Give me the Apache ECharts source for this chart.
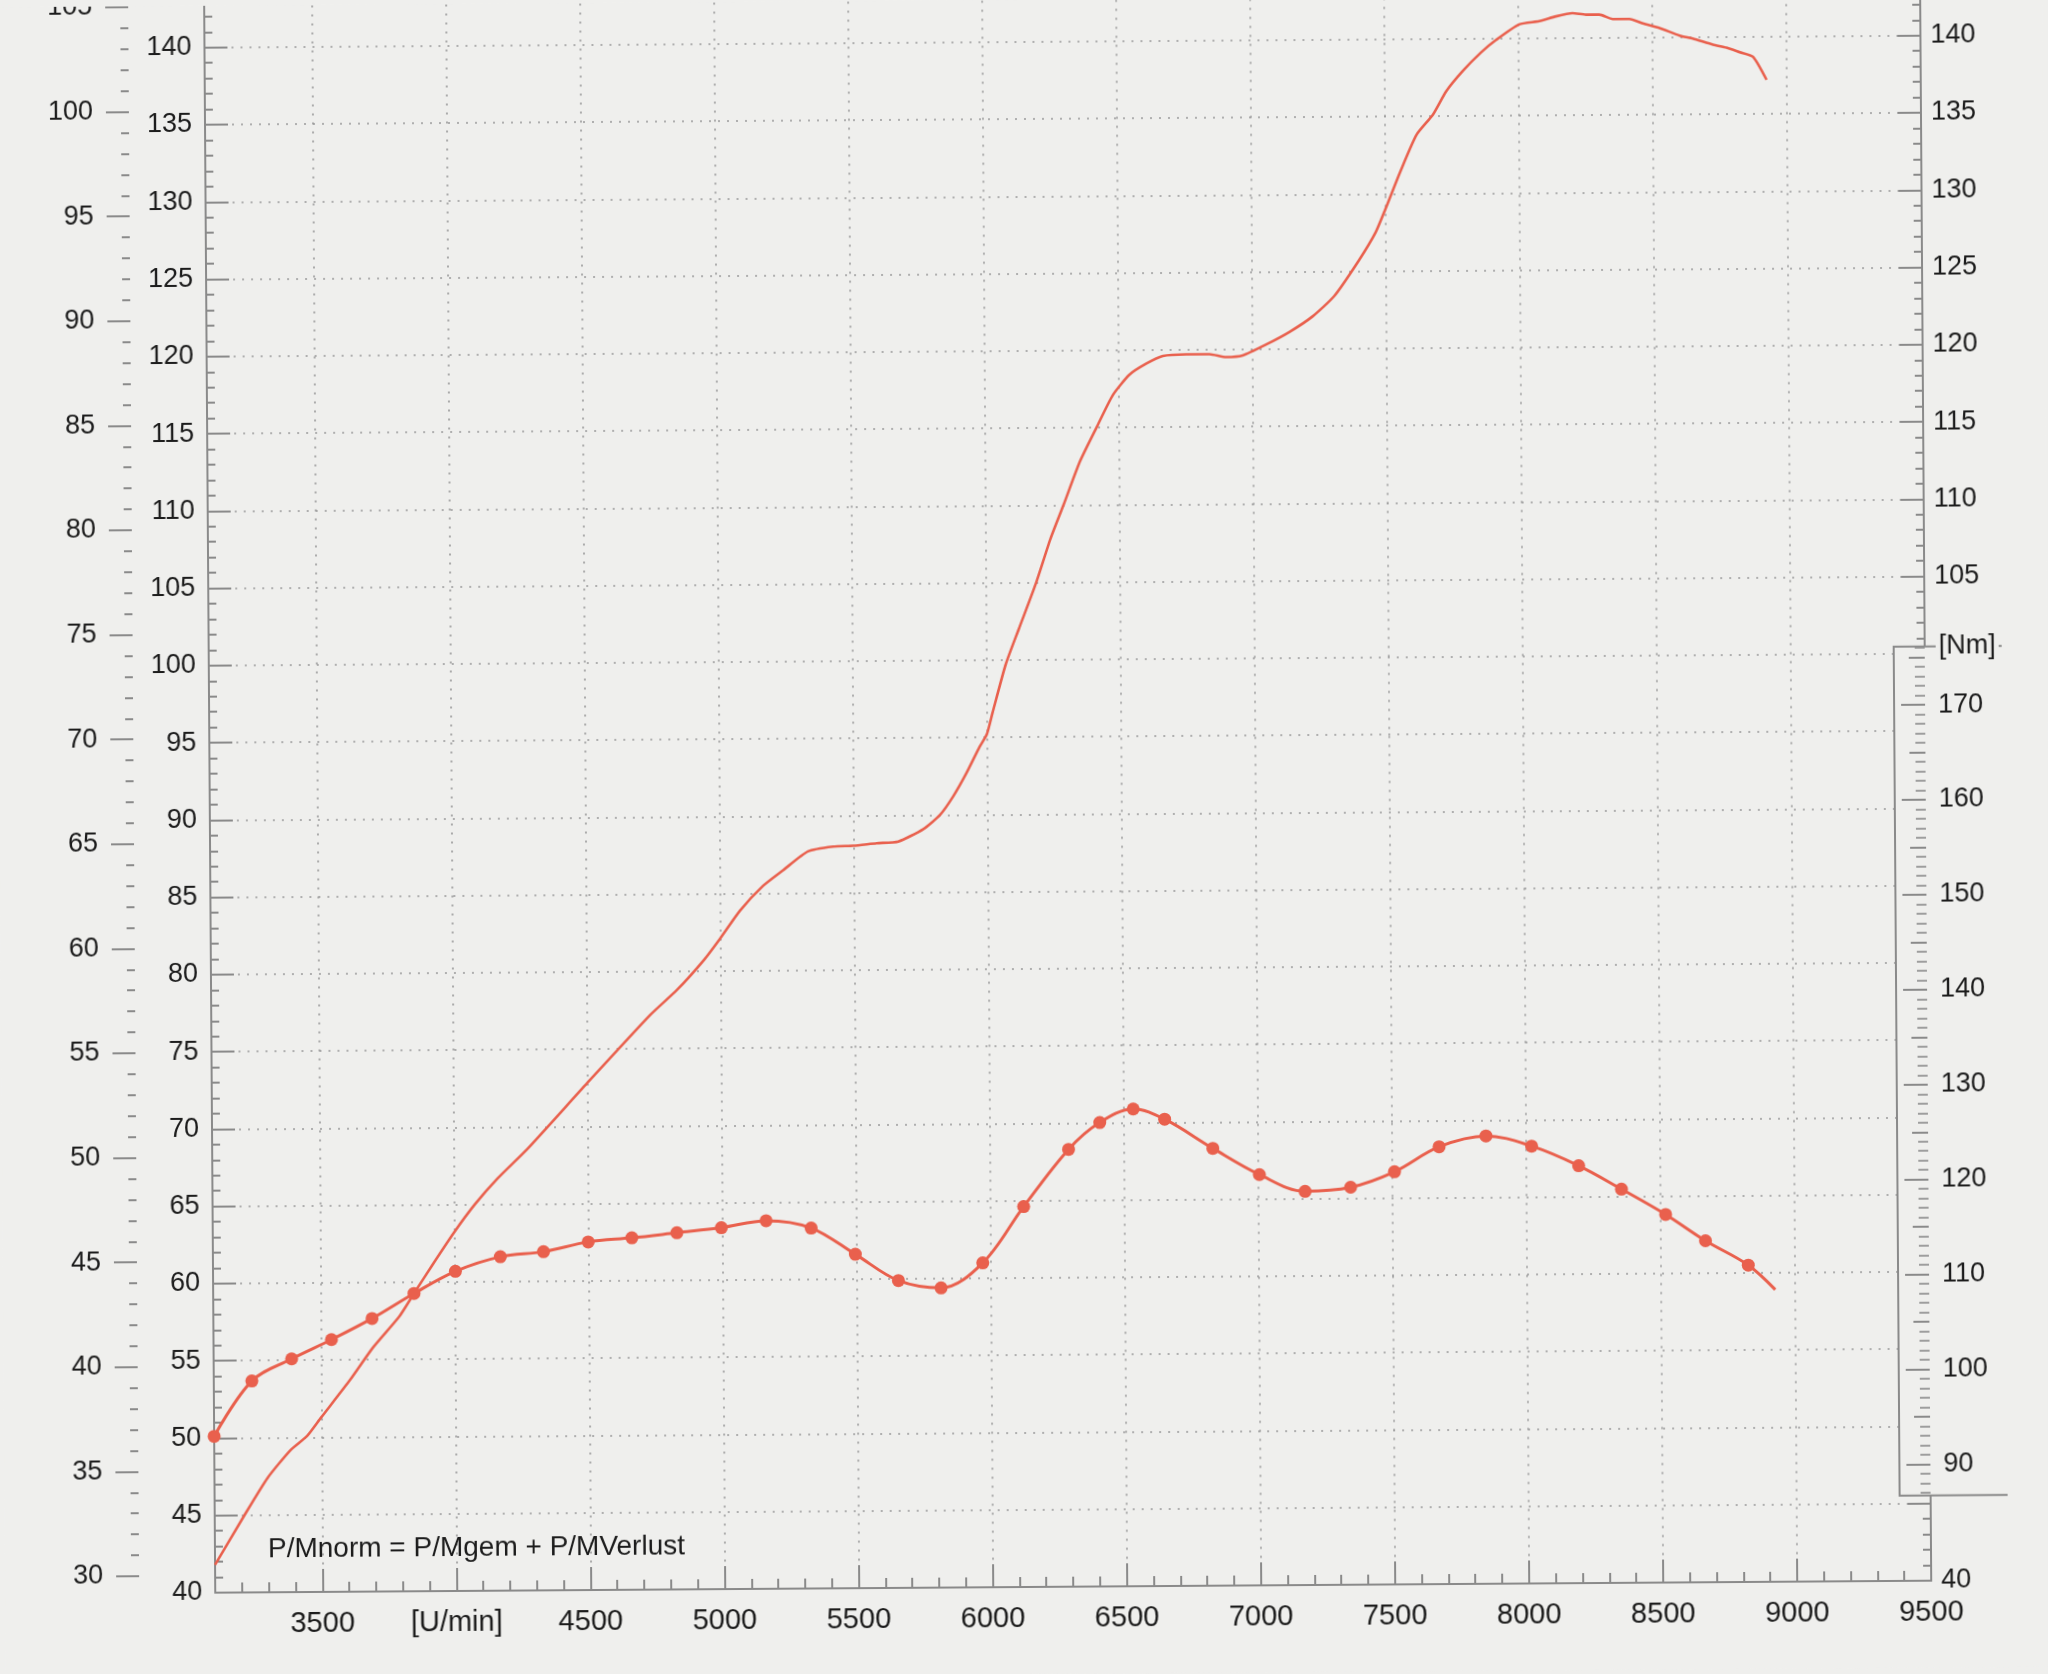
<!DOCTYPE html>
<html>
<head>
<meta charset="UTF-8">
<title>Leistungsprüfstand</title>
<style>
  html, body { margin: 0; height: 100%; background: #efefed; overflow: hidden; }
  /* der Scan ist leicht schief eingelegt */
  #container { width: 2048px; height: 1674px; transform: rotate(-0.4deg); }
</style>
</head>
<body>
<div id="container"></div>
<script src="https://cdn.jsdelivr.net/npm/echarts@6.0.0/dist/echarts.min.js"></script>
<script>
// Leistung [PS] ueber Drehzahl [U/min]
var rpmPower = [3100, 3211, 3298, 3385, 3447, 3500, 3608, 3695, 3794, 3850, 3918, 4000, 4078, 4165, 4277, 4500,
  4738, 4838, 4938, 5000, 5075, 5162, 5237, 5330, 5424, 5499, 5586, 5667, 5761, 5823, 5873, 5923, 5973, 6000,
  6022, 6072, 6122, 6186, 6242, 6292, 6354, 6417, 6479, 6541, 6603, 6666, 6753, 6840, 6902, 6964, 7052, 7139,
  7226, 7307, 7400, 7463, 7500, 7556, 7618, 7680, 7730, 7792, 7861, 7917, 8004, 8079, 8141, 8203, 8253, 8303,
  8353, 8415, 8465, 8527, 8602, 8651, 8726, 8776, 8826, 8875, 8925];
var psPower = [41.8, 45.0, 47.4, 49.2, 50.1, 51.3, 53.7, 55.8, 57.8, 59.3, 61.1, 63.2, 65.0, 66.7, 68.6, 72.8,
  77.2, 78.8, 80.7, 82.1, 83.9, 85.5, 86.5, 87.7, 88.0, 88.05, 88.2, 88.3, 89.1, 90.0, 91.2, 92.7, 94.4, 95.2,
  96.6, 99.7, 102.0, 104.9, 107.8, 110.0, 112.8, 115.0, 117.1, 118.4, 119.1, 119.6, 119.7, 119.7, 119.5, 119.6, 120.3, 121.1,
  122.1, 123.4, 125.7, 127.5, 129.0, 131.4, 133.8, 135.1, 136.6, 137.9, 139.1, 139.9, 140.9, 141.1, 141.4, 141.6, 141.5, 141.5,
  141.2, 141.2, 140.9, 140.6, 140.1, 139.9, 139.5, 139.3, 139.0, 138.7, 137.2];

// Drehmoment [Nm], Messpunkte (letzter Wert ohne Punkt)
var rpmTorque = [3100, 3242, 3391, 3540, 3692, 3849, 4004, 4172, 4333, 4500, 4663, 4831, 4997, 5164, 5332, 5496,
  5656, 5815, 5971, 6125, 6294, 6411, 6536, 6653, 6832, 7005, 7175, 7345, 7509, 7676, 7851, 8021, 8196, 8355,
  8519, 8667, 8826, 8926];
var nmTorque = [94.2, 100.0, 102.3, 104.3, 106.5, 109.1, 111.4, 112.9, 113.4, 114.4, 114.8, 115.3, 115.8, 116.5, 115.7, 112.9,
  110.1, 109.3, 111.9, 117.8, 123.8, 126.6, 128.0, 126.9, 123.8, 121.0, 119.2, 119.6, 121.2, 123.8, 124.9, 123.8, 121.7, 119.2,
  116.5, 113.7, 111.1, 108.5];

// Achsteilung
var xMajor = [3500, 4000, 4500, 5000, 5500, 6000, 6500, 7000, 7500, 8000, 8500, 9000];
var xLabels = [3500, 4000, 4500, 5000, 5500, 6000, 6500, 7000, 7500, 8000, 8500, 9000, 9500];
var nmMajor = [90, 100, 110, 120, 130, 140, 150, 160, 170];
var nmMid = [95, 105, 115, 125, 135, 145, 155, 165, 175];

function steps(a, b, s) {
  var r = [];
  for (var v = a; v <= b; v += s) r.push(v);
  return r;
}
var xMinor = steps(3200, 9400, 100);
var nmMinor = steps(87, 176, 1);

var bg = '#efefed';
var red = '#e9604d';
var gray = '#8a8a8a';
var ink = '#1c1c1c';
var font = "'Liberation Sans', Arial, sans-serif";
var dotted = { color: '#9a9a9a', type: [2, 7], width: 1.6 };

var myChart = echarts.init(document.getElementById('container'));

var torqueData = rpmTorque.map(function (r, i) {
  var item = { value: [r, nmTorque[i]] };
  if (i === rpmTorque.length - 1) item.symbol = 'none';
  return item;
});

var option = {
  backgroundColor: bg,
  animation: false,
  grid: [
    { left: 210, right: 122, top: -35.5, bottom: 87, outerBoundsMode: 'none' },
    { left: 134, width: 10, top: 1, bottom: 104, outerBoundsMode: 'none' }
  ],
  xAxis: [
    {
      type: 'value', gridIndex: 0, position: 'bottom', min: 3100, max: 9500, z: 1,
      axisLine: { show: true, onZero: false, lineStyle: { color: gray, width: 2 } },
      axisTick: { show: true, inside: true, length: 23, customValues: xMajor, lineStyle: { color: gray, width: 2 } },
      axisLabel: {
        customValues: xLabels, margin: 17, fontSize: 29, color: ink, fontFamily: font,
        formatter: function (v) { return v === 4000 ? '[U/min]' : String(v); }
      },
      splitLine: { show: true, lineStyle: dotted }
    },
    {
      type: 'value', gridIndex: 0, position: 'bottom', min: 3100, max: 9500, z: 1,
      axisLine: { show: false },
      axisTick: { show: true, inside: true, length: 10, customValues: xMinor, lineStyle: { color: gray, width: 2 } },
      axisLabel: { show: false },
      splitLine: { show: false }
    },
    { type: 'value', gridIndex: 1, show: false, min: 0, max: 1 }
  ],
  yAxis: [
    { // PS, innen links
      type: 'value', gridIndex: 0, position: 'left', min: 40, max: 145, interval: 5, z: 1,
      axisLine: { show: true, onZero: false, lineStyle: { color: gray, width: 2 } },
      axisTick: { show: true, inside: true, length: 23, lineStyle: { color: gray, width: 2 } },
      minorTick: { show: true, splitNumber: 5, length: 8, lineStyle: { color: gray, width: 2 } },
      axisLabel: { margin: 13, fontSize: 27, color: ink, fontFamily: font },
      splitLine: { show: true, showMinLine: false, lineStyle: dotted }
    },
    { // PS, rechts (Mitte vom Nm-Kasten verdeckt)
      type: 'value', gridIndex: 0, position: 'right', min: 40, max: 145, interval: 5, z: 1,
      axisLine: { show: true, onZero: false, lineStyle: { color: gray, width: 2 } },
      axisTick: { show: true, inside: true, length: 23, lineStyle: { color: gray, width: 2 } },
      minorTick: { show: true, splitNumber: 5, length: 8, lineStyle: { color: gray, width: 2 } },
      axisLabel: {
        margin: 10, fontSize: 27, color: ink, fontFamily: font,
        formatter: function (v) { return (v > 40 && v <= 100) ? '' : String(v); }
      },
      splitLine: { show: false }
    },
    { // Nm (Drehmoment-Serie)
      type: 'value', gridIndex: 0, position: 'right', min: 77.73, max: 248.64, z: 10,
      axisLine: { show: false },
      axisTick: { show: true, inside: true, length: 24, customValues: nmMajor, lineStyle: { color: gray, width: 2 } },
      axisLabel: { customValues: nmMajor, margin: 13, fontSize: 27, color: ink, fontFamily: font },
      splitLine: { show: false }
    },
    {
      type: 'value', gridIndex: 0, position: 'right', min: 77.73, max: 248.64, z: 10,
      axisLine: { show: false },
      axisTick: { show: true, inside: true, length: 16, customValues: nmMid, lineStyle: { color: gray, width: 2 } },
      axisLabel: { show: false },
      splitLine: { show: false }
    },
    {
      type: 'value', gridIndex: 0, position: 'right', min: 77.73, max: 248.64, z: 10,
      axisLine: { show: false },
      axisTick: { show: true, inside: true, length: 10, customValues: nmMinor, lineStyle: { color: gray, width: 1.6 } },
      axisLabel: { show: false },
      splitLine: { show: false }
    },
    { // kW, aussen links
      type: 'value', gridIndex: 1, position: 'left', min: 30, max: 105, interval: 5,
      axisLine: { show: false },
      axisTick: { show: true, length: 23, lineStyle: { color: gray, width: 2 } },
      minorTick: { show: true, splitNumber: 5, length: 8, lineStyle: { color: gray, width: 2 } },
      axisLabel: { margin: 36, fontSize: 27, color: ink, fontFamily: font },
      splitLine: { show: false }
    }
  ],
  graphic: [
    { type: 'rect', z: 5, shape: { x: 1895, y: 652.7, width: 200, height: 849 }, style: { fill: bg } },
    {
      type: 'polyline', z: 11,
      shape: { points: [[2003, 652.7], [1895, 652.7], [1895, 1501.7], [2003, 1501.7]] },
      style: { stroke: gray, lineWidth: 2, fill: 'none' }
    },
    {
      type: 'text', z: 12, x: 1937, y: 653,
      style: { text: '[Nm]', font: '27px ' + font, fill: ink, verticalAlign: 'middle', backgroundColor: bg, padding: [0, 3] }
    },
    {
      type: 'text', z: 12, x: 263, y: 1544,
      style: { text: 'P/Mnorm = P/Mgem + P/MVerlust', font: '28px ' + font, fill: ink, verticalAlign: 'middle' }
    }
  ],
  series: [
    {
      name: 'P', type: 'line', xAxisIndex: 0, yAxisIndex: 0, z: 3,
      data: rpmPower.map(function (r, i) { return [r, psPower[i]]; }),
      symbol: 'none', smooth: 0.2,
      lineStyle: { color: red, width: 2.6 }
    },
    {
      name: 'M', type: 'line', xAxisIndex: 0, yAxisIndex: 2, z: 3,
      data: torqueData,
      symbol: 'circle', symbolSize: 13, smooth: 0.35,
      itemStyle: { color: red },
      lineStyle: { color: red, width: 3 }
    }
  ]
};

option && myChart.setOption(option);
</script>
</body>
</html>
